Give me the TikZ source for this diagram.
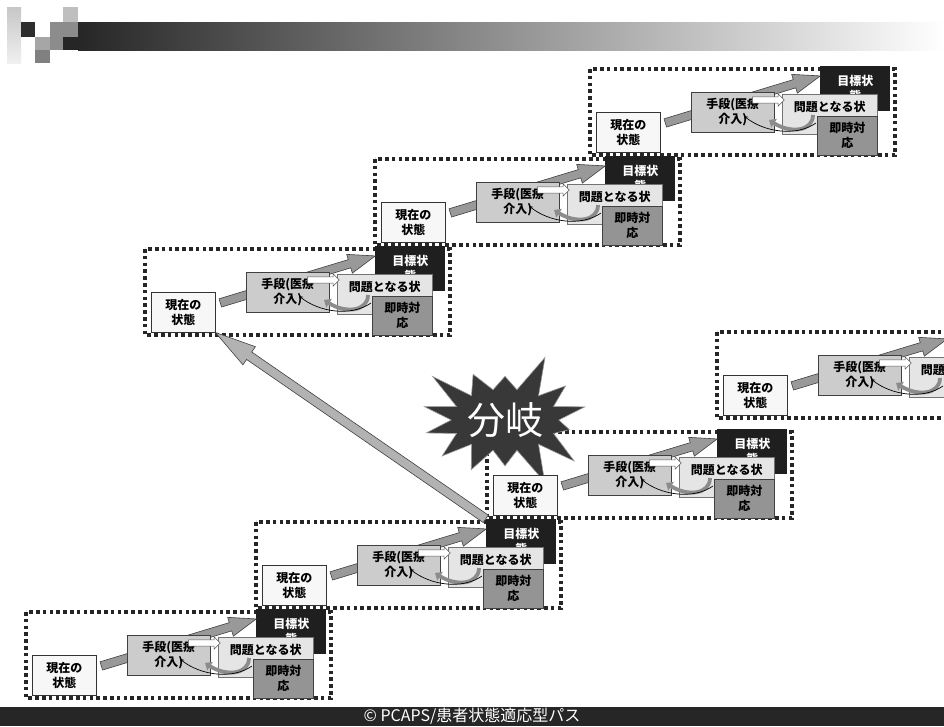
\documentclass[tikz,border=0pt]{standalone}
\usepackage{fontspec}
\newfontfamily\jp{Noto Sans CJK JP}
\usetikzlibrary{calc,arrows.meta,shapes.arrows,shapes.symbols}
\pgfdeclarelayer{bg}
\pgfsetlayers{bg,main}

\tikzset{
  frame/.style={line width=3.6pt, dash pattern=on 3.6pt off 3.2pt, black!85},
  cell/.style={anchor=north west, inner sep=0pt, align=center, line width=0.6pt,
               font=\jp\bfseries\fontsize{12}{15}\selectfont},
  nowbox/.style={cell, draw=black!80, fill=black!3, minimum width=64pt, minimum height=40pt},
  meanbox/.style={cell, draw=black!75, fill=black!20, minimum width=83pt, minimum height=40pt},
  probbox/.style={cell, draw=black!55, fill=black!10, minimum width=95pt, minimum height=40pt,
                  text depth=16pt},
  actbox/.style={cell, draw=black!75, fill=black!42, minimum width=60pt, minimum height=39pt},
  goalbox/.style={cell, fill=black!88, text=white, minimum width=70pt, minimum height=45pt},
  bigarrow/.style={single arrow, draw=black!75, fill=black!40, line width=0.6pt, inner sep=4pt,
                   single arrow head extend=5.5pt, single arrow tip angle=40},
  longarrow/.style={single arrow, draw=black!75, fill=black!30, line width=0.6pt, inner sep=4.2pt,
                   single arrow head extend=6.5pt, single arrow tip angle=30},
  whitearrow/.style={single arrow, draw=black!65, fill=white, line width=0.5pt, inner sep=2.8pt,
                   single arrow head extend=3.2pt, single arrow tip angle=90},
  backarrow/.style={line width=3.8pt, black!45, -{Triangle[width=10pt,length=6pt]}},
  thincurve/.style={line width=0.7pt, black, -{Stealth[length=4pt,width=4pt]}},
  burst/.style={starburst, starburst points=14, starburst point height=40pt, random starburst=3,
                fill=black!78, draw=black!40, line width=0.6pt, minimum width=166pt,
                minimum height=142pt, inner sep=0pt, text=white, font=\jp\fontsize{38}{38}\selectfont}
}

% block arrow from #2 to #3
\newcommand\blockarrow[3][]{%
  \path let \p1=($(#3)-(#2)$), \n1={atan2(\y1,\x1)}, \n2={veclen(\x1,\y1)} in
    node[#1, anchor=tail, rotate=\n1, minimum height=\n2] at (#2) {};}

% one stage: name, top left corner of its frame
\newcommand\stage[3]{%
  \begin{scope}[shift={(#2,#3)}]
    \begin{pgfonlayer}{bg}
      \draw[frame] (0,0) rectangle (305,86);
    \end{pgfonlayer}
    \node[goalbox] (#1-goal) at (230,-3) {目標状\\態};
    \coordinate (#1-tail) at (75,54);
    \coordinate (#1-tip) at (230,7);
    \blockarrow[bigarrow]{#1-tail}{#1-tip}
    \node[meanbox] (#1-mean) at (101,23) {手段(医療\\介入)};
    \node[probbox] (#1-prob) at (192,25) {問題となる状};
    \node[actbox] (#1-act) at (227,47) {即時対\\応};
    \node[nowbox] (#1-now) at (6,43) {現在の\\状態};

    \coordinate (#1-w1) at (162,31);
    \coordinate (#1-w2) at (194,31);
    \blockarrow[whitearrow]{#1-w1}{#1-w2}
    \coordinate (#1-b1) at (223,46);
    \coordinate (#1-b2) at (179,51);
    \draw[backarrow] (#1-b1) .. controls +(0,16) and +(22,14) .. (#1-b2);
    \coordinate (#1-c1) at (226,54);
    \coordinate (#1-c2) at (154,47);
    \draw[thincurve] (#1-c1) .. controls +(-20,14) and +(20,16) .. (#1-c2);
  \end{scope}}

\begin{document}
\begin{tikzpicture}[x=1pt, y=-1pt]
  \path[use as bounding box] (0,0) rectangle (944,726);
  \begin{pgfonlayer}{bg}
    \fill[white] (0,0) rectangle (944,726);
  \end{pgfonlayer}

  % header
  \shade[top color=black!22, bottom color=black!6] (7,7) rectangle (21,63);
  \fill[black!82] (21,22) rectangle (35,37);
  \fill[black!35] (35,37) rectangle (50,50);
  \fill[black!50] (35,50) rectangle (50,63);
  \fill[black!45] (50,22) rectangle (63,50);
  \fill[black!25] (63,7) rectangle (78,22);
  \fill[black!45] (63,22) rectangle (78,37);
  \fill[black!85] (63,37) rectangle (78,50);
  \shade[left color=black!85, right color=white] (78,22) rectangle (944,50);

  \stage{b7}{590}{69}
  \stage{b6}{375}{159}
  \stage{b5}{145}{249}
  \stage{b4}{717}{332}

  \node[burst] (fork) at (505,420) {分岐};

  \stage{b3}{487}{432}
  \stage{b2}{256}{522}
  \stage{b1}{26}{612}

  \blockarrow[longarrow]{b2-goal.north west}{b5-now.south east}

  % footer
  \fill[black!85] (0,707) rectangle (944,726);
  \node[text=white, font=\jp\fontsize{16}{16}\selectfont] (copy) at (472,716.5)
    {© PCAPS/患者状態適応型パス};
\end{tikzpicture}
\end{document}
